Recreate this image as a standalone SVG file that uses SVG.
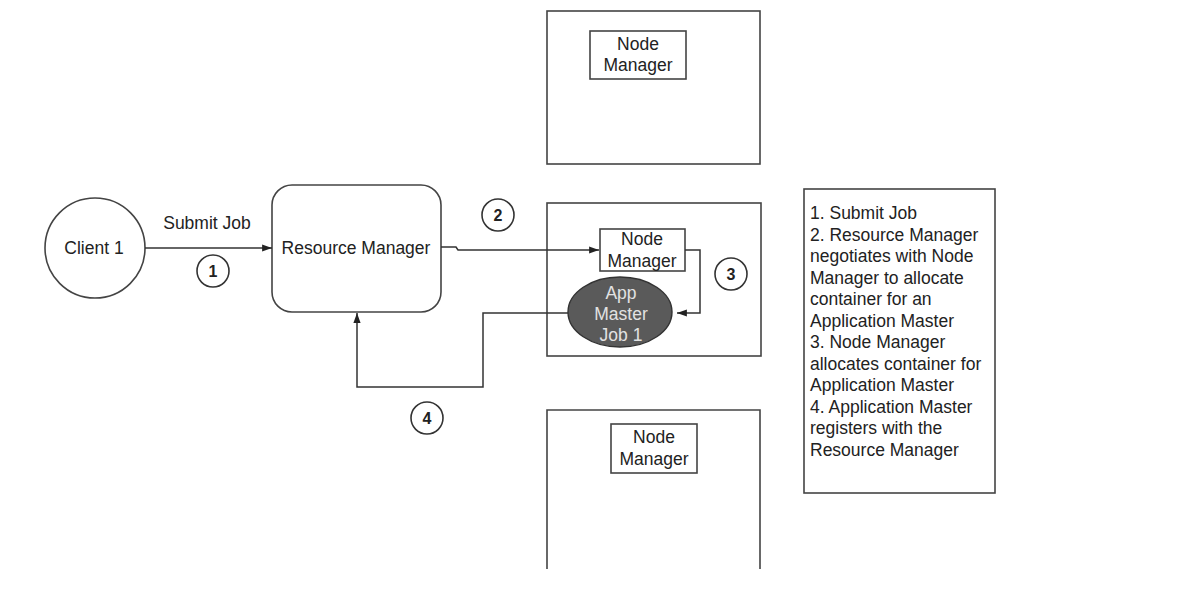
<svg xmlns="http://www.w3.org/2000/svg" width="1188" height="594" viewBox="0 0 1188 594">
<style>
.t{font-family:"Liberation Sans",Arial,sans-serif;font-size:17.5px;fill:#222;text-anchor:middle}
.lg{font-family:"Liberation Sans",Arial,sans-serif;font-size:17.5px;fill:#222}
.n{font-family:"Liberation Sans",Arial,sans-serif;font-size:16px;font-weight:bold;fill:#222;text-anchor:middle}
.box{fill:#fff;stroke:#444;stroke-width:1.6}
.c{fill:none;stroke:#333;stroke-width:1.5}
.num{fill:#fff;stroke:#333;stroke-width:1.6}
</style>
<defs>
<marker id="ah" viewBox="0 0 11 10" refX="11" refY="5" markerWidth="11" markerHeight="9" markerUnits="userSpaceOnUse" orient="auto">
<path d="M0,1 L11,5 L0,9 z" fill="#222"/>
</marker>
</defs>
<rect width="1188" height="594" fill="#fff"/>

<g id="node-top">
<rect class="box" x="547" y="11" width="213" height="153"/>
<rect class="box" x="590" y="31" width="96" height="48"/>
<text class="t" x="638" y="50">Node</text>
<text class="t" x="638" y="71">Manager</text>
</g>

<g id="node-middle">
<rect class="box" x="547" y="203" width="214" height="153"/>
<rect class="box" x="600" y="229" width="85" height="42"/>
<text class="t" x="642" y="245">Node</text>
<text class="t" x="642" y="267">Manager</text>
</g>

<g id="node-bottom">
<path d="M547,569 V410 H760 V569" fill="#fff" stroke="#444" stroke-width="1.6"/>
<rect class="box" x="611" y="424" width="86" height="49"/>
<text class="t" x="654" y="443">Node</text>
<text class="t" x="654" y="465">Manager</text>
</g>

<g id="client">
<circle cx="95" cy="248" r="50" fill="#fff" stroke="#444" stroke-width="1.6"/>
<text class="t" x="94" y="254">Client 1</text>
</g>

<g id="resource-manager">
<rect class="box" x="272" y="185" width="169" height="127" rx="20"/>
<text class="t" x="356" y="254">Resource Manager</text>
</g>

<g id="app-master">
<ellipse cx="620" cy="312" rx="52" ry="35" fill="#5a5a5a" stroke="#333" stroke-width="1.4"/>
<text class="t" x="621" y="299" style="fill:#e2e2e2">App</text>
<text class="t" x="621" y="320" style="fill:#e2e2e2">Master</text>
<text class="t" x="621" y="341" style="fill:#e2e2e2">Job 1</text>
</g>

<g id="connectors">
<path class="c" d="M145,248 H272" marker-end="url(#ah)"/>
<path class="c" d="M441,247 H456 L458,250 H599" marker-end="url(#ah)"/>
<path class="c" d="M685,250 H700 V313 H677" marker-end="url(#ah)"/>
<path class="c" d="M568,313 H483 V387 H357 V313" marker-end="url(#ah)"/>
</g>

<g id="labels">
<text class="t" x="207" y="229">Submit Job</text>
<circle class="num" cx="213" cy="271" r="16"/>
<text class="n" x="213" y="277">1</text>
<circle class="num" cx="498" cy="215" r="16"/>
<text class="n" x="498" y="221">2</text>
<circle class="num" cx="731" cy="274" r="16"/>
<text class="n" x="731" y="280">3</text>
<circle class="num" cx="427" cy="418" r="16"/>
<text class="n" x="427" y="424">4</text>
</g>

<g id="legend">
<rect class="box" x="804" y="189" width="191" height="304"/>
<text class="lg" x="810" y="219">1. Submit Job</text>
<text class="lg" x="810" y="240.5">2. Resource Manager</text>
<text class="lg" x="810" y="262">negotiates with Node</text>
<text class="lg" x="810" y="283.5">Manager to allocate</text>
<text class="lg" x="810" y="305">container for an</text>
<text class="lg" x="810" y="326.5">Application Master</text>
<text class="lg" x="810" y="348">3. Node Manager</text>
<text class="lg" x="810" y="369.5">allocates container for</text>
<text class="lg" x="810" y="391">Application Master</text>
<text class="lg" x="810" y="412.5">4. Application Master</text>
<text class="lg" x="810" y="434">registers with the</text>
<text class="lg" x="810" y="455.5">Resource Manager</text>
</g>
</svg>
